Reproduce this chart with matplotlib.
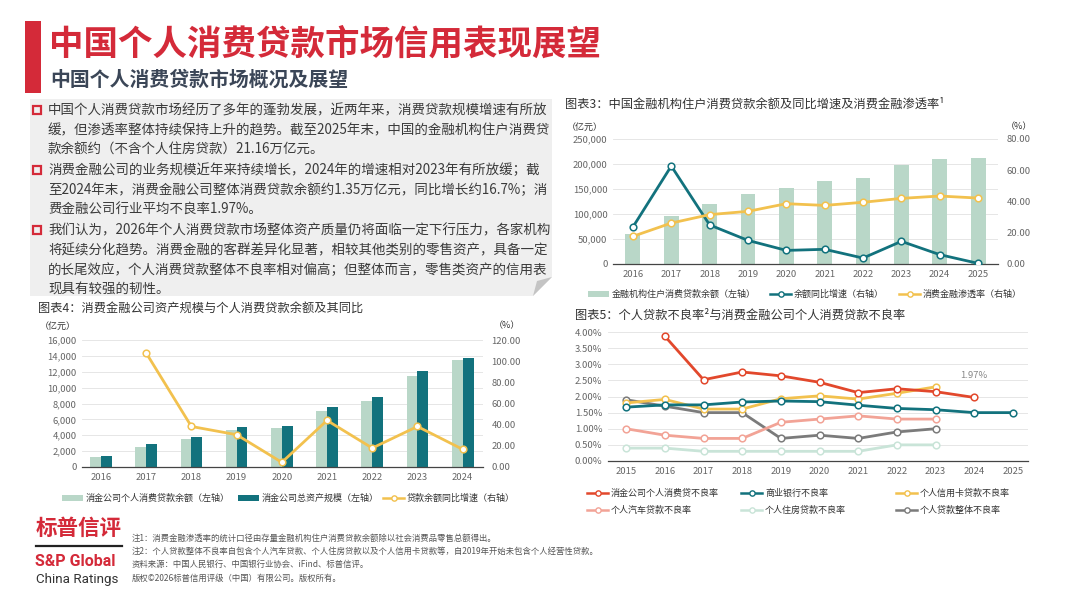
import matplotlib
matplotlib.use("Agg")
import matplotlib.pyplot as plt
from matplotlib.patches import Polygon, Rectangle
import numpy as np

plt.rcParams['font.family'] = ['Noto Sans CJK SC', 'DejaVu Sans']

# ---- 数据 ----
# 图表3
years3 = ["2016", "2017", "2018", "2019", "2020", "2021", "2022", "2023", "2024", "2025"]
balance3 = [59000, 95000, 120000, 139000, 151000, 165000, 172500, 197500, 210000, 211600]
growth3 = [23.7, 62.7, 25.0, 15.1, 8.7, 9.4, 3.8, 14.5, 6.0, 0.4]
penetration3 = [17.7, 26.2, 31.6, 33.7, 38.6, 37.5, 39.5, 42.0, 43.5, 42.2]

# 图表4
years4 = ["2016", "2017", "2018", "2019", "2020", "2021", "2022", "2023", "2024"]
loans4 = [1260, 2560, 3560, 4690, 4900, 7080, 8300, 11520, 13450]
assets4 = [1420, 2850, 3810, 4980, 5190, 7500, 8840, 12060, 13780]
growth4 = [np.nan, 107.7, 38.3, 30.5, 4.4, 44.0, 17.9, 38.3, 16.7]

# 图表5
years5 = [2015, 2016, 2017, 2018, 2019, 2020, 2021, 2022, 2023, 2024, 2025]
npl_cfc = [np.nan, 3.87, 2.52, 2.76, 2.64, 2.44, 2.12, 2.24, 2.15, 1.97, np.nan]
npl_bank = [1.67, 1.74, 1.74, 1.83, 1.86, 1.84, 1.73, 1.63, 1.59, 1.50, 1.50]
npl_card = [1.80, 1.91, 1.61, 1.61, 1.93, 2.02, 1.92, 2.10, 2.30, np.nan, np.nan]
npl_auto = [1.0, 0.8, 0.7, 0.7, 1.2, 1.3, 1.4, 1.3, 1.3, np.nan, np.nan]
npl_house = [0.4, 0.4, 0.3, 0.3, 0.3, 0.3, 0.3, 0.5, 0.5, np.nan, np.nan]
npl_total = [1.9, 1.7, 1.5, 1.5, 0.7, 0.8, 0.7, 0.9, 1.0, np.nan, np.nan]

bullets = [
    ["中国个人消费贷款市场经历了多年的蓬勃发展，近两年来，消费贷款规模增速有所放",
     "缓，但渗透率整体持续保持上升的趋势。截至2025年末，中国的金融机构住户消费贷",
     "款余额约（不含个人住房贷款）21.16万亿元。"],
    ["消费金融公司的业务规模近年来持续增长，2024年的增速相对2023年有所放缓；截",
     "至2024年末，消费金融公司整体消费贷款余额约1.35万亿元，同比增长约16.7%；消",
     "费金融公司行业平均不良率1.97%。"],
    ["我们认为，2026年个人消费贷款市场整体资产质量仍将面临一定下行压力，各家机构",
     "将延续分化趋势。消费金融的客群差异化显著，相较其他类别的零售资产，具备一定",
     "的长尾效应，个人消费贷款整体不良率相对偏高；但整体而言，零售类资产的信用表",
     "现具有较强的韧性。"],
]

notes = [
    "注1：消费金融渗透率的统计口径由存量金融机构住户消费贷款余额除以社会消费品零售总额得出。",
    "注2：个人贷款整体不良率自包含个人汽车贷款、个人住房贷款以及个人信用卡贷款等，自2019年开始未包含个人经营性贷款。",
    "资料来源：中国人民银行、中国银行业协会、iFind、标普信评。",
    "版权©2026标普信用评级（中国）有限公司。版权所有。",
]

# 颜色
RED = "#d42a39"
SAGE = "#b9d7c8"
TEAL = "#12727d"
GOLD = "#f2c14e"
ORANGE = "#e2482c"
SALMON = "#f2a396"
MINT = "#c9e4d8"
GREY = "#7b7b7b"
TXT = "#333333"
TICK = "#666666"
GRID = "#e2e2e2"

W, H = 1067, 600
fig = plt.figure(figsize=(W / 100, H / 100), dpi=100)

# 整页底层，用像素坐标排版
bg = fig.add_axes([0, 0, 1, 1])
bg.set_xlim(0, W)
bg.set_ylim(H, 0)
bg.axis("off")


def px_axes(x0, y0, x1, y1):
    return fig.add_axes([x0 / W, 1 - y1 / H, (x1 - x0) / W, (y1 - y0) / H], facecolor="none")


def style_axes(ax):
    for s in ["top", "right", "left"]:
        ax.spines[s].set_visible(False)
    ax.spines["bottom"].set_color("#444444")
    ax.spines["bottom"].set_linewidth(0.9)
    ax.tick_params(length=0, labelsize=6.8, labelcolor=TICK, pad=4)
    ax.yaxis.grid(True, color=GRID, linewidth=0.6)
    ax.set_axisbelow(True)


def leg_patch(x, y, color, label):
    bg.add_patch(Rectangle((x, y - 3), 21, 6, color=color, lw=0))
    bg.text(x + 24, y, label, fontsize=6.5, color=TXT, va="center")


def leg_line(x, y, color, label):
    bg.plot([x, x + 21], [y, y], color=color, lw=1.8)
    bg.plot([x + 10.5], [y], marker="o", ms=3.8, mfc="white", mec=color, mew=1)
    bg.text(x + 24, y, label, fontsize=6.5, color=TXT, va="center")


# ---- 标题区 ----
bg.add_patch(Rectangle((25, 21), 16, 72, color=RED, lw=0))
bg.text(49, 44, "中国个人消费贷款市场信用表现展望", fontsize=24.8, fontweight="bold",
        color=RED, va="center")
bg.text(50, 79, "中国个人消费贷款市场概况及展望", fontsize=14.3, fontweight="bold",
        color="#3b4657", va="center")

# 文字框（带折角）
bg.add_patch(Polygon([(30, 99), (552, 99), (552, 277), (533, 296), (30, 296)],
                     closed=True, color="#efefef", lw=0))
bg.add_patch(Polygon([(552, 277), (533, 296), (537, 281)], closed=True, color="#c4c4c4", lw=0))

y = 110
for para in bullets:
    bg.add_patch(Rectangle((32.5, y - 4.5), 8, 8, fill=False, ec=RED, lw=1.6))
    for line in para:
        bg.text(48, y, line, fontsize=9.7, color="#3a3a3a", va="center")
        y += 20

# ---- 图表3 ----
bg.text(565, 104, "图表3：中国金融机构住户消费贷款余额及同比增速及消费金融渗透率¹",
        fontsize=8.8, color=TXT, va="center")
bg.text(567, 127, "（亿元）", fontsize=6.5, color=TXT, va="center")
bg.text(1006, 127, "（%）", fontsize=6.5, color=TXT, va="center")

ax3 = px_axes(613, 139, 998, 264)
style_axes(ax3)
x3 = np.arange(len(years3))
ax3.bar(x3, balance3, width=0.39, color=SAGE, zorder=2)
ax3.set_ylim(0, 250000)
ax3.set_yticks(np.arange(0, 250001, 50000))
ax3.set_yticklabels([f"{v:,}" for v in range(0, 250001, 50000)])
ax3.set_xlim(-0.52, 9.52)
ax3.set_xticks(x3)
ax3.set_xticklabels(years3)

ax3r = ax3.twinx()
ax3r.set_facecolor("none")
for s in ["top", "right", "left", "bottom"]:
    ax3r.spines[s].set_visible(False)
ax3r.plot(x3, growth3, color=TEAL, lw=2, marker="o", ms=4.8, mfc="white", mec=TEAL, mew=1.1, zorder=3)
ax3r.plot(x3, penetration3, color=GOLD, lw=2, marker="o", ms=4.8, mfc="white", mec=GOLD, mew=1.1, zorder=3)
ax3r.set_ylim(0, 80)
ax3r.set_yticks(np.arange(0, 81, 20))
ax3r.set_yticklabels([f"{v:.2f}" for v in range(0, 81, 20)])
ax3r.tick_params(length=0, labelsize=6.8, labelcolor=TICK, pad=6)

leg_patch(588, 294, SAGE, "金融机构住户消费贷款余额（左轴）")
leg_line(770, 294, TEAL, "余额同比增速（右轴）")
leg_line(899, 294, GOLD, "消费金融渗透率（右轴）")

# ---- 图表4 ----
bg.text(38, 308, "图表4：消费金融公司资产规模与个人消费贷款余额及其同比",
        fontsize=8.8, color=TXT, va="center")
bg.text(40, 326, "（亿元）", fontsize=6.5, color=TXT, va="center")
bg.text(494, 326, "（%）", fontsize=6.5, color=TXT, va="center")

ax4 = px_axes(82, 340, 483, 467)
style_axes(ax4)
x4 = np.arange(len(years4))
ax4.bar(x4 - 0.12, loans4, width=0.24, color=SAGE, zorder=2)
ax4.bar(x4 + 0.12, assets4, width=0.24, color=TEAL, zorder=2)
ax4.set_ylim(0, 16000)
ax4.set_yticks(np.arange(0, 16001, 2000))
ax4.set_yticklabels([f"{v:,}" for v in range(0, 16001, 2000)])
ax4.set_xlim(-0.42, 8.45)
ax4.set_xticks(x4)
ax4.set_xticklabels(years4)

ax4r = ax4.twinx()
ax4r.set_facecolor("none")
for s in ["top", "right", "left", "bottom"]:
    ax4r.spines[s].set_visible(False)
ax4r.plot(x4, growth4, color=GOLD, lw=2, marker="o", ms=4.8, mfc="white", mec=GOLD, mew=1.1, zorder=3)
ax4r.set_ylim(0, 120)
ax4r.set_yticks(np.arange(0, 121, 20))
ax4r.set_yticklabels([f"{v:.2f}" for v in range(0, 121, 20)])
ax4r.tick_params(length=0, labelsize=6.8, labelcolor=TICK, pad=6)

leg_patch(62, 498, SAGE, "消金公司个人消费贷款余额（左轴）")
leg_patch(238, 498, TEAL, "消金公司总资产规模（左轴）")
leg_line(383, 498, GOLD, "贷款余额同比增速（右轴）")

# ---- 图表5 ----
bg.text(575, 315, "图表5：个人贷款不良率²与消费金融公司个人消费贷款不良率",
        fontsize=8.8, color=TXT, va="center")

ax5 = px_axes(608, 332, 1028, 461)
style_axes(ax5)
series5 = [
    (npl_cfc, ORANGE), (npl_bank, TEAL), (npl_card, GOLD),
    (npl_auto, SALMON), (npl_house, MINT), (npl_total, GREY),
]
for vals, col in reversed(series5):
    ax5.plot(years5, vals, color=col, lw=2, marker="o", ms=4.8, mfc="white", mec=col, mew=1.1, zorder=3)
ax5.set_ylim(0, 4)
ax5.set_yticks(np.arange(0, 4.01, 0.5))
ax5.set_yticklabels([f"{v:.2f}%" for v in np.arange(0, 4.01, 0.5)])
ax5.set_xlim(2015 - 0.47, 2025 + 0.39)
ax5.set_xticks(years5)
ax5.set_xticklabels([str(v) for v in years5])
ax5.annotate("1.97%", (2024, npl_cfc[9]), xytext=(0, 14), textcoords="offset points",
             ha="center", fontsize=6.8, color="#888888")

leg_line(587, 493, ORANGE, "消金公司个人消费贷不良率")
leg_line(741, 493, TEAL, "商业银行不良率")
leg_line(896, 493, GOLD, "个人信用卡贷款不良率")
leg_line(587, 510, SALMON, "个人汽车贷款不良率")
leg_line(741, 510, MINT, "个人住房贷款不良率")
leg_line(896, 510, GREY, "个人贷款整体不良率")

# ---- 页脚 ----
bg.text(36, 528, "标普信评", fontsize=15.5, fontweight="bold", color=RED, va="center")
bg.plot([36, 122], [546, 546], color="#222222", lw=1.6)
bg.text(35, 561, "S&P Global", fontsize=11.5, fontweight="bold", color=RED, va="center",
        family=["Roboto", "DejaVu Sans"])
bg.text(36, 579, "China Ratings", fontsize=9.6, color="#333333", va="center",
        family=["Roboto", "DejaVu Sans"])

for i, n in enumerate(notes):
    bg.text(132, 538 + i * 13.3, n, fontsize=6.0, color="#555555", va="center")

fig.savefig("out.png", dpi=100)
